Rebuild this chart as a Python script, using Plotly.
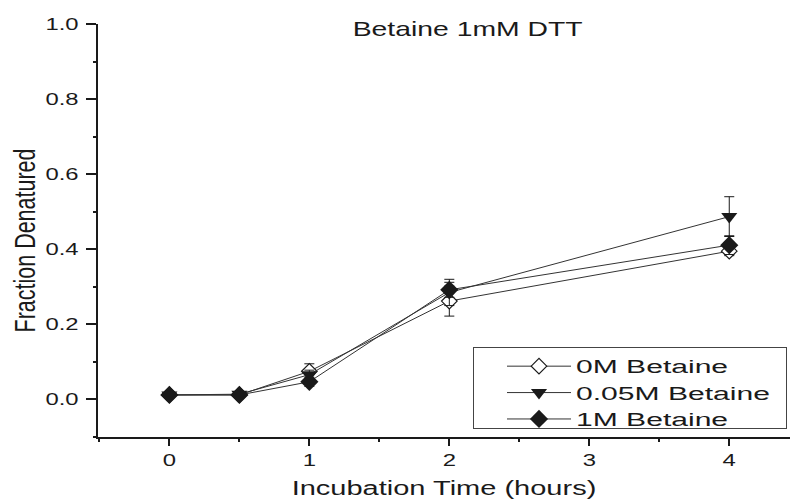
import plotly.graph_objects as go

# Incubation time points (hours)
time_h = [0, 0.5, 1, 2, 4]

# Fraction denatured for each betaine concentration, with standard errors
frac_0M = [0.012, 0.012, 0.075, 0.262, 0.395]
err_0M = [0.004, 0.004, 0.020, 0.040, 0.012]

frac_005M = [0.012, 0.014, 0.066, 0.285, 0.487]
err_005M = [0.004, 0.004, 0.012, 0.035, 0.053]

frac_1M = [0.012, 0.012, 0.047, 0.292, 0.411]
err_1M = [0.004, 0.004, 0.012, 0.020, 0.025]

series_names = ["0M Betaine", "0.05M Betaine", "1M Betaine"]
y_tick_vals = [0.0, 0.2, 0.4, 0.6, 0.8, 1.0]
y_tick_text = ["0.0", "0.2", "0.4", "0.6", "0.8", "1.0"]
x_tick_vals = [0, 1, 2, 3, 4]

FONT = "Liberation Sans, Arial, sans-serif"
INK = "#1a1a1a"

fig = go.Figure()

styles = [
    (frac_0M, err_0M, dict(symbol="diamond", color="white", size=12,
                           line=dict(color=INK, width=1.2))),
    (frac_005M, err_005M, dict(symbol="triangle-down", color=INK, size=14,
                               line=dict(color=INK, width=0))),
    (frac_1M, err_1M, dict(symbol="diamond", color=INK, size=14,
                           line=dict(color=INK, width=0))),
]

for name, (vals, errs, marker) in zip(series_names, styles):
    fig.add_trace(go.Scatter(
        x=time_h, y=vals, name=name, mode="lines+markers",
        line=dict(color="#333333", width=1),
        marker=marker,
        error_y=dict(type="data", array=errs, visible=True,
                     color=INK, thickness=1, width=5),
    ))

fig.update_layout(
    width=793, height=503,
    margin=dict(l=98, r=3, t=24, b=66),
    paper_bgcolor="white", plot_bgcolor="white",
    font=dict(family=FONT, color=INK),
    title=dict(text="Betaine 1mM DTT", font=dict(size=21, family=FONT, color=INK),
               xref="paper", x=0.368, xanchor="left",
               yref="container", y=1 - 29 / 503, yanchor="middle"),
    showlegend=True,
    legend=dict(
        x=(501 - 98) / 692, y=0.218, xanchor="left", yanchor="top",
        bgcolor="white", bordercolor="#444444", borderwidth=1,
        font=dict(size=18, family=FONT, color=INK),
        itemwidth=64, tracegroupgap=0,
    ),
    xaxis=dict(
        range=[-0.51, 4.434], showgrid=False, zeroline=False,
        showline=True, linecolor=INK, linewidth=2,
        tickmode="array", tickvals=x_tick_vals,
        ticks="outside", ticklen=7, tickwidth=1.5, tickcolor=INK,
        tickfont=dict(size=17, family=FONT, color=INK),
        minor=dict(dtick=0.5, tick0=0, ticks="outside", ticklen=3,
                   tickwidth=1.5, tickcolor=INK, showgrid=False),
        title=dict(text="Incubation Time (hours)", standoff=12,
                   font=dict(size=20, family=FONT, color=INK)),
    ),
    yaxis=dict(
        range=[-0.1, 1.0], showgrid=False, zeroline=False,
        showline=True, linecolor=INK, linewidth=2,
        tickmode="array", tickvals=y_tick_vals, ticktext=y_tick_text,
        ticks="outside", ticklen=10, tickwidth=1.5, tickcolor=INK,
        ticklabelstandoff=4,
        tickfont=dict(size=17, family=FONT, color=INK),
        minor=dict(dtick=0.1, tick0=0, ticks="outside", ticklen=3,
                   tickwidth=1.5, tickcolor=INK, showgrid=False),
        title=dict(text="Fraction Denatured", standoff=13,
                   font=dict(size=21.5, family=FONT, color=INK)),
    ),
)

# The label typeface is a wide cut: stretch the text runs across once
# the figure is drawn, and give the legend frame room for the wider names.
widen_text = """
var gd = document.getElementById('{plot_id}');
function widen(sel, f) {
  gd.querySelectorAll(sel).forEach(function (t) {
    var w = t.getComputedTextLength();
    if (w > 0) {
      t.setAttribute('textLength', (w * f).toFixed(1));
      t.setAttribute('lengthAdjust', 'spacingAndGlyphs');
    }
  });
}
widen('.xtick text', 1.4);
widen('.ytick text', 1.4);
widen('.legendtext', 1.67);
widen('.gtitle', 1.35);
widen('.xtitle', 1.45);

// rotated axis title: thicken the glyphs across the text direction
gd.querySelectorAll('.ytitle').forEach(function (t) {
  var x = parseFloat(t.getAttribute('x')), y = parseFloat(t.getAttribute('y'));
  var tr = t.getAttribute('transform') || '';
  t.setAttribute('transform', 'translate(0,10) ' + tr + ' translate(' + x + ',' + y + ') scale(1,1.4) translate(' + (-x) + ',' + (-y) + ')');
});

// legend frame: extend left of the symbols and right of the widened names
var lg = gd.querySelector('.legend');
if (lg) {
  var bg = lg.querySelector('rect.bg');
  if (bg) {
    bg.setAttribute('x', -27.5);
    bg.setAttribute('width', 313);
    bg.setAttribute('height', 81);
  }
  gd.querySelectorAll('clipPath').forEach(function (c) {
    if (c.id && c.id.indexOf('legend') >= 0) {
      c.querySelectorAll('rect').forEach(function (r) { r.setAttribute('width', 320); });
    }
  });
}
"""

fig.write_html("out.html", post_script=widen_text)
